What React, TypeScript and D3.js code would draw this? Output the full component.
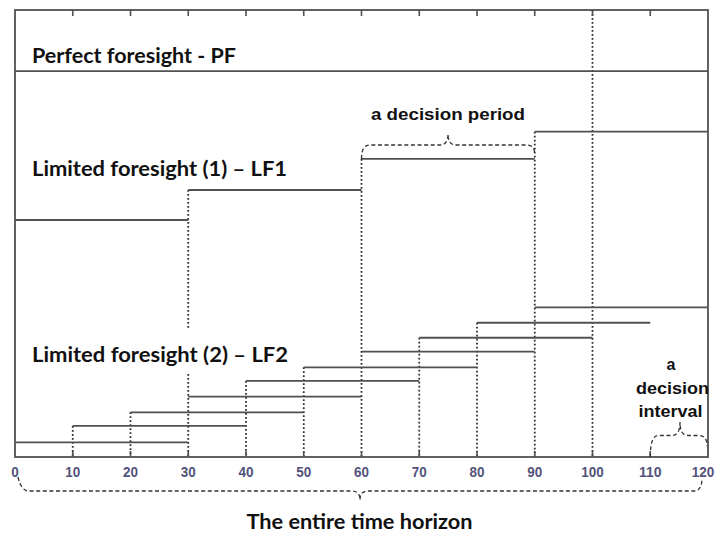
import React from "react";
import * as d3 from "d3";

const ticks = [0, 10, 20, 30, 40, 50, 60, 70, 80, 90, 100, 110, 120];
const pfLevel = 25.73;
const lf1Starts = [0, 30, 60, 90];
const lf1Ends = [30, 60, 90, 120];
const lf1Levels = [15.8, 17.8, 19.87, 21.69];
const lf2Starts = [0, 10, 20, 30, 40, 50, 60, 70, 80, 90];
const lf2Ends = [30, 40, 50, 60, 70, 80, 90, 100, 110, 120];
const lf2Levels = [0.98, 2.07, 2.98, 4.02, 5.07, 5.98, 7.02, 7.95, 8.95, 9.98];
const fullDotted = [100];

const W = 718;
const H = 534;
const LINE = "#505050";
const DOT = "#2e2e2e";
const BRACE = "#333";

function bracePath(x1: number, x2: number, xm: number, yb: number, yf: number, yt: number, yb2?: number) {
  const r = 8;
  const r2 = 8;
  const e2 = yb2 === undefined ? yb : yb2;
  return `M${x1},${yb} Q${x1},${yf} ${x1 + r},${yf} L${xm - r2},${yf} Q${xm},${yf} ${xm},${yt} Q${xm},${yf} ${xm + r2},${yf} L${x2 - r},${yf} Q${x2},${yf} ${x2},${e2}`;
}

export default function App() {
  const x = d3.scaleLinear().domain([0, 120]).range([15, 708]);
  const y = d3.scaleLinear().domain([0, 29.8]).range([457, 10]);
  const x0 = x(0), x1 = x(120), yTop = y(29.8), yBot = y(0);

  const dotted: { xv: number; top: number }[] = [];
  ticks.slice(1, -1).forEach((t) => {
    if (fullDotted.includes(t)) {
      dotted.push({ xv: t, top: yTop });
      return;
    }
    const lv: number[] = [];
    lf1Starts.forEach((s, i) => { if (s === t) lv.push(lf1Levels[i]); });
    lf2Starts.forEach((s, i) => { if (s === t) lv.push(lf2Levels[i]); });
    if (lv.length) dotted.push({ xv: t, top: y(d3.max(lv) as number) });
  });

  const labelFont = "Lato, 'Open Sans', sans-serif";
  const arial = "'Liberation Sans', Arial, sans-serif";

  return (
    <svg width={W} height={H} style={{ position: "absolute", left: 0, top: 0, background: "#fff" }}>
      <rect x={0} y={0} width={W} height={H} fill="#fff" />
      {dotted.map((d) => (
        <line key={"d" + d.xv} x1={x(d.xv)} x2={x(d.xv)} y1={d.top} y2={yBot}
          stroke={DOT} strokeWidth={1.8} strokeDasharray="1.8,2.2" />
      ))}
      {ticks.slice(1, -1).map((t) => (
        <g key={"t" + t}>
          <line x1={x(t)} x2={x(t)} y1={yTop} y2={yTop + 6} stroke={LINE} strokeWidth={1.6} />
          <line x1={x(t)} x2={x(t)} y1={yBot} y2={yBot - 6} stroke={LINE} strokeWidth={1.6} />
        </g>
      ))}
      <line x1={x0} x2={x1} y1={y(pfLevel)} y2={y(pfLevel)} stroke={LINE} strokeWidth={1.8} />
      {lf1Starts.map((s, i) => (
        <line key={"a" + i} x1={x(s)} x2={x(lf1Ends[i])} y1={y(lf1Levels[i])} y2={y(lf1Levels[i])} stroke={LINE} strokeWidth={1.8} />
      ))}
      {lf2Starts.map((s, i) => (
        <line key={"b" + i} x1={x(s)} x2={x(lf2Ends[i])} y1={y(lf2Levels[i])} y2={y(lf2Levels[i])} stroke={LINE} strokeWidth={1.8} />
      ))}
      <rect x={x0} y={yTop} width={x1 - x0} height={yBot - yTop} fill="none" stroke={LINE} strokeWidth={1.8} />

      <text x={32} y={63.3} fontFamily={labelFont} fontWeight={700} fontSize={21.5} fill="#111"
        textLength={204} lengthAdjust="spacingAndGlyphs">Perfect foresight - PF</text>
      <text x={32} y={175.5} fontFamily={labelFont} fontWeight={700} fontSize={21.5} fill="#111"
        textLength={255} lengthAdjust="spacingAndGlyphs">Limited foresight (1) – LF1</text>
      <rect x={29} y={328} width={262} height={44} fill="#fff" />
      <text x={32} y={361.5} fontFamily={labelFont} fontWeight={700} fontSize={21.5} fill="#111"
        textLength={256} lengthAdjust="spacingAndGlyphs">Limited foresight (2) – LF2</text>

      <path d={bracePath(x(60), x(90), 448, y(lf1Levels[2]), 145, 134, 155)} fill="none" stroke={BRACE} strokeWidth={1.3} strokeDasharray="4,2.6" />
      <text x={448} y={120} textAnchor="middle" fontFamily={arial} fontWeight={700} fontSize={16.5} fill="#111"
        textLength={154} lengthAdjust="spacingAndGlyphs">a decision period</text>

      <path d={bracePath(x(110), x(120) - 1, 680, yBot, 435.5, 422, 446)} fill="none" stroke={BRACE} strokeWidth={1.3} strokeDasharray="4,2.6" />
      <text x={671} y={369.5} textAnchor="middle" fontFamily={arial} fontWeight={700} fontSize={16} fill="#111">a</text>
      <text x={672.5} y={394.3} textAnchor="middle" fontFamily={arial} fontWeight={700} fontSize={16} fill="#111"
        textLength={73} lengthAdjust="spacingAndGlyphs">decision</text>
      <text x={670.5} y={417.3} textAnchor="middle" fontFamily={arial} fontWeight={700} fontSize={16} fill="#111"
        textLength={64} lengthAdjust="spacingAndGlyphs">interval</text>

      {ticks.map((t) => (
        <text key={"l" + t} x={t === 120 ? x(t) - 5 : x(t)} y={476.5} textAnchor="middle" fontFamily={arial} fontWeight={700} fontSize={15.5}
          fill="#52527a" textLength={String(t).length * 7.5} lengthAdjust="spacingAndGlyphs">{t}</text>
      ))}

      <path d={`M${x0 + 3},477 Q${x0 + 6},491 ${x0 + 14},491 L352,491 Q360,491 360,500 Q360,491 368,491 L694,491 Q702,491 702,478`}
        fill="none" stroke={BRACE} strokeWidth={1.3} strokeDasharray="4,2.6" />
      <text x={246.5} y={529.3} fontFamily={labelFont} fontWeight={700} fontSize={21.5} fill="#111"
        textLength={226} lengthAdjust="spacingAndGlyphs">The entire time horizon</text>
    </svg>
  );
}
